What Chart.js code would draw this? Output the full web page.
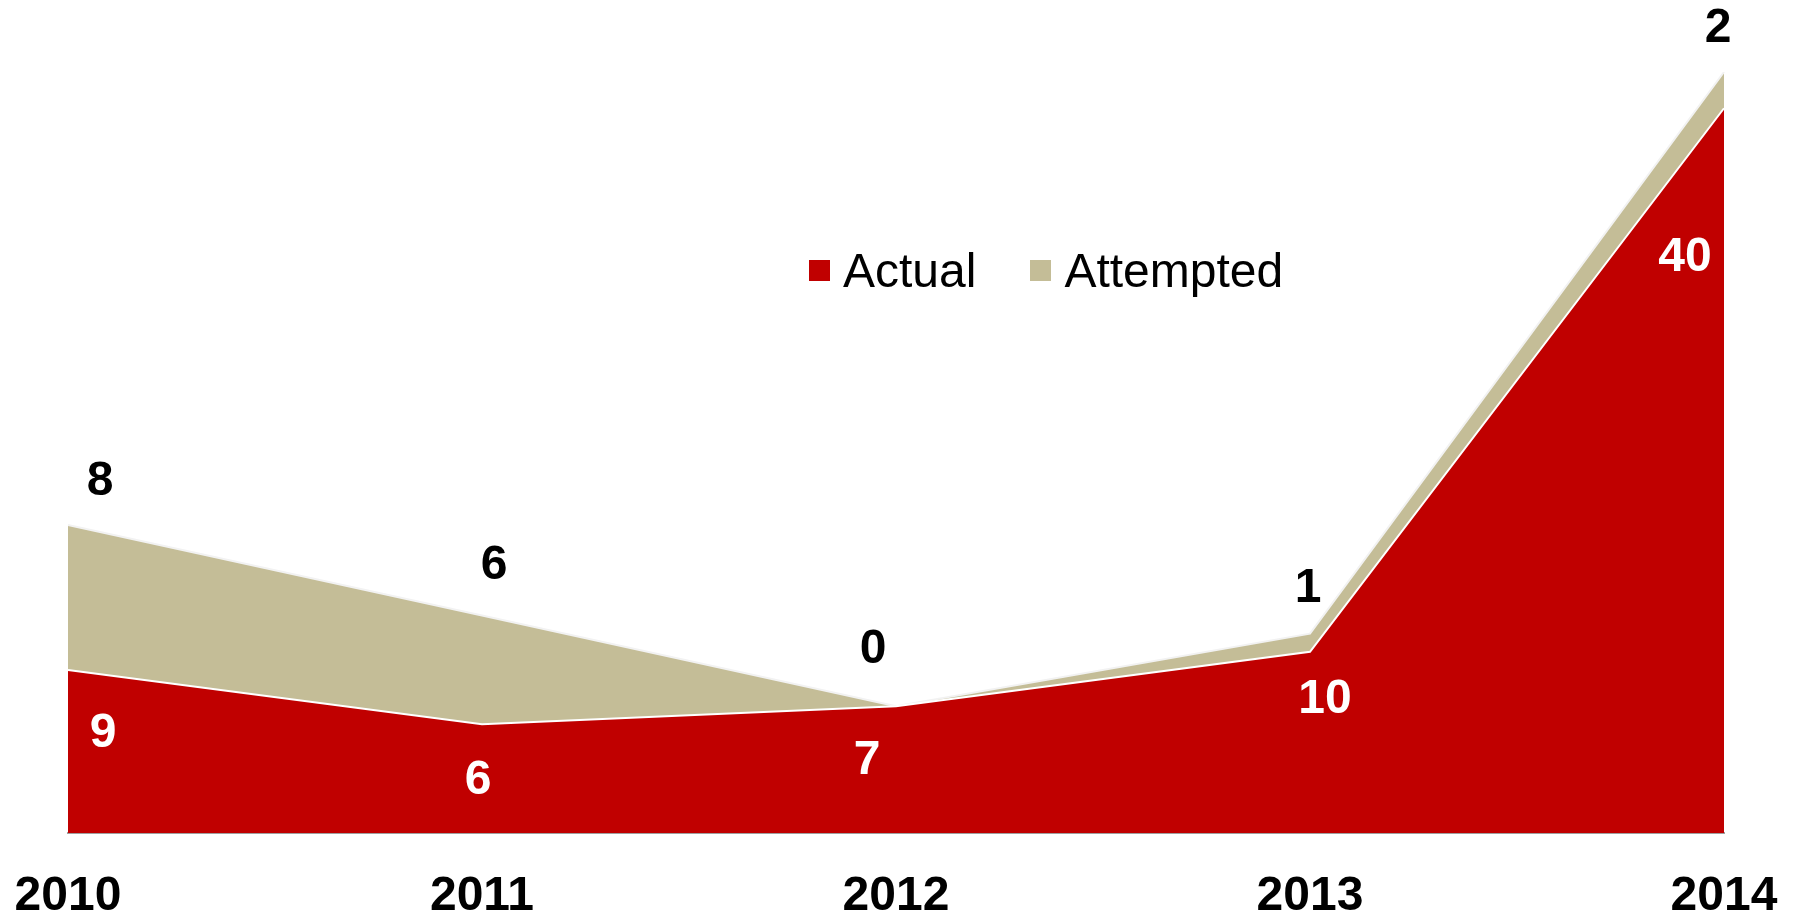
<!DOCTYPE html>
<html>
<head>
<meta charset="utf-8">
<script src="https://cdn.jsdelivr.net/npm/chart.js@4/dist/chart.umd.min.js"></script>
<style>
    html, body { margin: 0; padding: 0; background: #fff; }
    #wrap { position: relative; width: 1794px; height: 911px; }
    #legend {
        position: absolute; left: 809px; top: 243px;
        font-family: "Liberation Sans", Arial, sans-serif; font-size: 48px;
        display: flex; align-items: center; color: #000;
    }
    #legend span.item { display: flex; align-items: center; margin-right: 54px; }
    #legend span.box { display: inline-block; width: 21px; height: 21px; margin-right: 13px; }
</style>
</head>
<body>
<div id="wrap">
    <canvas id="chart" width="1794" height="911"></canvas>
    <div id="legend"></div>
</div>
<script>
const years = ["2010", "2011", "2012", "2013", "2014"];
const actual = [9, 6, 7, 10, 40];
const attempted = [8, 6, 0, 1, 2];

const RED = "#C00000";
const TAN = "#C4BD97";
const FONT = "'Liberation Sans', Arial, sans-serif";

// label nudges (px) so they sit where the original put them
const actualOffsets = [[35, 64], [-4, 56], [-29, 55], [15, 48], [-39, 150]];
const attemptedOffsets = [[32, -43], [12, -50], [-23, -56], [-2, -45], [-6, -43]];

const valueLabels = {
    id: "valueLabels",
    afterDatasetsDraw(chart) {
        const ctx = chart.ctx;
        ctx.save();
        ctx.font = "bold 48px " + FONT;
        ctx.textAlign = "center";
        ctx.textBaseline = "middle";
        chart.data.datasets.forEach(function (ds, i) {
            const meta = chart.getDatasetMeta(i);
            const offsets = i === 0 ? actualOffsets : attemptedOffsets;
            ctx.fillStyle = i === 0 ? "#fff" : "#000";
            meta.data.forEach(function (pt, j) {
                ctx.fillText(String(ds.data[j]), pt.x + offsets[j][0], pt.y + offsets[j][1]);
            });
        });
        ctx.restore();
    },
};

const chart = new Chart(document.getElementById("chart").getContext("2d"), {
    type: "line",
    data: {
        labels: years,
        datasets: [
            {
                label: "Actual",
                data: actual,
                backgroundColor: RED,
                borderColor: "#fff",
                borderWidth: 2,
                fill: "origin",
                pointRadius: 0,
            },
            {
                label: "Attempted",
                data: attempted,
                backgroundColor: TAN,
                borderColor: "#f2f2f2",
                borderWidth: 2,
                fill: "-1",
                pointRadius: 0,
            },
        ],
    },
    options: {
        responsive: false,
        animation: false,
        layout: { padding: { left: 68, right: 70, top: 72, bottom: 0 } },
        plugins: { legend: { display: false }, tooltip: { enabled: false } },
        scales: {
            x: {
                offset: false,
                grid: { display: false },
                border: { display: true, color: "#a0a0a0", width: 2 },
                ticks: {
                    color: "#000",
                    padding: 32,
                    maxRotation: 0,
                    font: { family: FONT, size: 48, weight: "bold", lineHeight: 1 },
                },
                afterFit(scale) {
                    scale.height = 78;
                    scale.paddingLeft = 0;
                    scale.paddingRight = 0;
                },
            },
            y: {
                display: false,
                stacked: true,
                min: 0,
                max: 42,
            },
        },
    },
    plugins: [valueLabels],
});

// simple html legend built from the datasets
const legend = document.getElementById("legend");
chart.data.datasets.forEach(function (ds) {
    const item = document.createElement("span");
    item.className = "item";
    item.innerHTML = '<span class="box" style="background:' + ds.backgroundColor + '"></span>' + ds.label;
    legend.appendChild(item);
});
</script>
</body>
</html>
